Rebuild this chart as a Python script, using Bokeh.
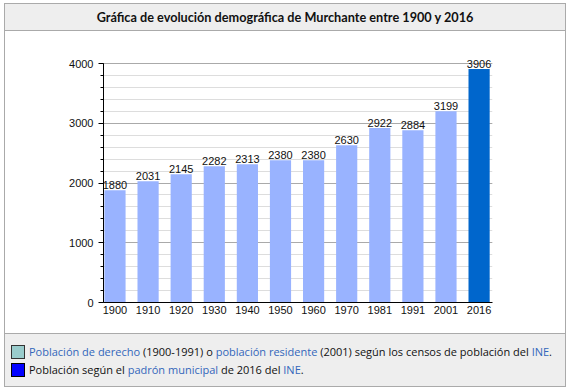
from bokeh.plotting import figure
from bokeh.models import (ColumnDataSource, Range1d, SingleIntervalTicker, FixedTicker, Div)
from bokeh.layouts import column
from bokeh.core.properties import value
from bokeh.embed import file_html
from bokeh.resources import INLINE

title_text = "Gráfica de evolución demográfica de Murchante entre 1900 y 2016"
years = ["1900", "1910", "1920", "1930", "1940", "1950", "1960", "1970", "1981", "1991", "2001", "2016"]
population = [1880, 2031, 2145, 2282, 2313, 2380, 2380, 2630, 2922, 2884, 3199, 3906]
bar_colors = ["#99b3ff"] * 11 + ["#0066cc"]

idx = list(range(len(years)))
src = ColumnDataSource(dict(x=idx, pop=population, label=[str(v) for v in population], color=bar_colors))

frame_h = 252
y_end = frame_h * 4000 / 239

p = figure(width=560, height=302, output_backend="svg", toolbar_location=None,
           x_range=Range1d(-0.347, 11.405), y_range=Range1d(0, y_end),
           min_border_left=98, min_border_right=73, min_border_top=19, min_border_bottom=31,
           background_fill_color="white", border_fill_color="white", outline_line_color=None,
           margin=(0, 0, 0, 0))

p.vbar(x="x", top="pop", width=0.64, bottom=0, color="color", line_color=None, source=src)
p.text(x="x", y="pop", text="label", source=src, text_align="center", text_baseline="bottom",
       text_font=value("Liberation Sans"), text_font_size="11px", text_color="#111111", y_offset=-1)

p.xgrid.grid_line_color = None
p.ygrid.grid_line_color = "#aaaaaa"
p.ygrid.minor_grid_line_color = "#dddddd"
p.ygrid.level = "underlay"

p.yaxis.ticker = SingleIntervalTicker(interval=1000, num_minor_ticks=5)
p.yaxis.bounds = (0, 4000)
p.yaxis.axis_line_color = "black"
p.yaxis.major_tick_out = 5
p.yaxis.major_tick_in = 0
p.yaxis.minor_tick_out = 3
p.yaxis.minor_tick_in = 0
p.yaxis.major_tick_line_color = "black"
p.yaxis.minor_tick_line_color = "black"
p.yaxis.major_label_text_font = "Liberation Sans"
p.yaxis.major_label_text_font_size = "11px"
p.yaxis.major_label_text_color = "#111111"
p.yaxis.major_label_standoff = 5

p.xaxis.ticker = FixedTicker(ticks=idx)
p.xaxis.major_label_overrides = {i: y for i, y in enumerate(years)}
p.xaxis.axis_line_color = "black"
p.xaxis.major_tick_out = 0
p.xaxis.major_tick_in = 0
p.xaxis.minor_tick_line_color = None
p.xaxis.major_label_text_font = "Liberation Sans"
p.xaxis.major_label_text_font_size = "11px"
p.xaxis.major_label_text_color = "#111111"
p.xaxis.major_label_standoff = 3

title_div = Div(text=title_text, width=560, height=27, margin=(0, 0, 0, 0),
                styles={"background-color": "#eeeeee", "border-bottom": "1px solid #aaaaaa",
                        "box-sizing": "border-box", "display": "flex", "align-items": "center",
                        "justify-content": "center", "text-align": "center", "font-weight": "bold",
                        "font-family": "Lato", "font-size": "12.7px", "line-height": "normal",
                        "color": "#111111", "overflow": "hidden"})

link = "color:#3366bb"
sq = "display:inline-block;width:14px;height:14px;vertical-align:-3px;margin-right:4px;border:1px solid #333;box-sizing:border-box;"
legend_html = (
    f'<div style="margin-bottom:3px;white-space:nowrap"><span style="{sq}background:#99cccc"></span>'
    f'<span style="{link}">Población de derecho</span> (1900-1991) o '
    f'<span style="{link}">población residente</span> (2001) según los censos de población del '
    f'<span style="{link}">INE</span>.</div>'
    f'<div style="white-space:nowrap"><span style="{sq}background:#0000ff;border-color:#000"></span>'
    f'Población según el <span style="{link}">padrón municipal</span> de 2016 del '
    f'<span style="{link}">INE</span>.</div>'
)
legend_div = Div(text=legend_html, width=560, height=53, margin=(0, 0, 0, 0),
                 styles={"background-color": "#eeeeee", "border-top": "1px solid #aaaaaa",
                         "box-sizing": "border-box", "padding": "10px 0 0 6px",
                         "font-family": "Open Sans", "font-size": "11px", "color": "#111111",
                         "line-height": "15px", "overflow": "hidden"})

layout = column(title_div, p, legend_div, spacing=0,
                styles={"border": "1px solid #aaaaaa", "margin-left": "4px", "margin-top": "3px",
                        "background-color": "white"})

open("out.html", "w").write(file_html(layout, INLINE))
